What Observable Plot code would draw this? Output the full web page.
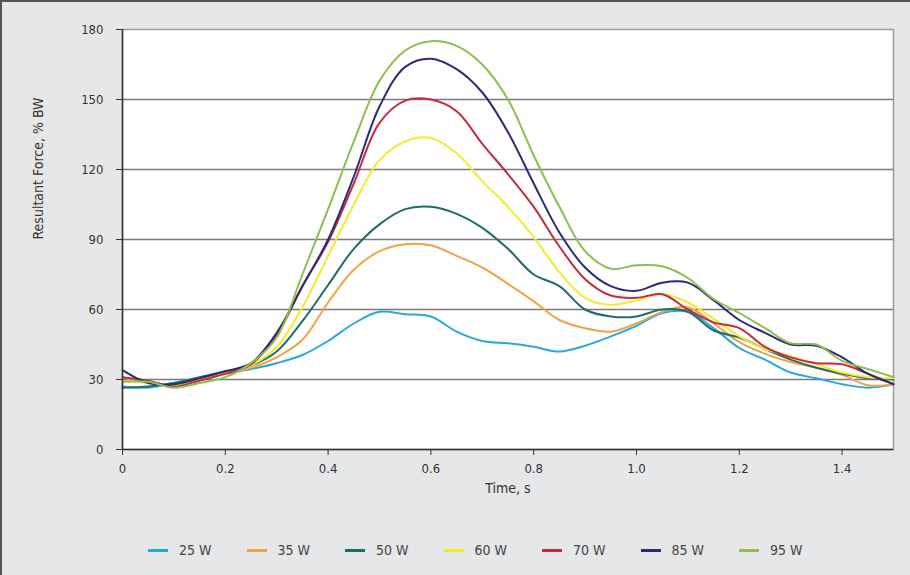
<!DOCTYPE html>
<html>
<head>
<meta charset="utf-8">
<script src="https://cdn.jsdelivr.net/npm/d3@7"></script>
<script src="https://cdn.jsdelivr.net/npm/@observablehq/plot@0.6"></script>
<style>
  html, body { margin: 0; padding: 0; }
  #wrap { position: relative; width: 910px; height: 575px; background: #e5e7e9; overflow: hidden;
          font-family: "DejaVu Sans", sans-serif; font-stretch: condensed; }
  #chart { position: absolute; left: 0; top: 0; }
  #chart svg text { font-stretch: condensed; }
  #edge { position: absolute; left: 0; top: 0; width: 910px; height: 575px; box-sizing: border-box;
          border-left: 2px solid #555; border-top: 2px solid #555; pointer-events: none; }
  #legend { position: absolute; left: 148px; top: 542px; display: flex; }
  .item { width: 98.5px; display: flex; align-items: center; font-size: 14px; color: #444; font-stretch: condensed; }
  .sw { width: 20px; height: 3px; margin-right: 11px; }
</style>
</head>
<body>
<div id="wrap">
  <div id="chart"></div>
  <div id="legend"></div>
  <div id="edge"></div>
</div>
<script>
const seriesNames = ["25 W", "35 W", "50 W", "60 W", "70 W", "85 W", "95 W"];
const seriesColors = ["#2aa8dc", "#eea446", "#1f6d69", "#f4ea2e", "#c42b3c", "#2b2b78", "#8cbf4e"];

const time = [0, 0.05, 0.1, 0.15, 0.2, 0.25, 0.3, 0.35, 0.4, 0.45, 0.5, 0.55, 0.6, 0.65, 0.7, 0.75,
              0.8, 0.85, 0.9, 0.95, 1.0, 1.05, 1.1, 1.15, 1.2, 1.25, 1.3, 1.35, 1.4, 1.45, 1.5];

const w25 = [27, 26.5, 28.5, 30.5, 32.5, 34.5, 37, 40.5, 46.5, 54, 59, 58, 57, 50.5, 46.5, 45.5,
             44, 42, 44.5, 48.5, 53, 58.5, 59, 52, 43.5, 38.5, 33, 30.5, 28, 26.5, 27.8];
const w35 = [31, 28.5, 27.5, 30, 32.5, 35, 39.5, 47, 63, 77, 85, 88, 87.5, 83, 78, 71,
             63.5, 55.5, 52, 50.5, 54, 59, 61, 54, 46, 41, 37.5, 35, 32, 27.5, 28];
const w50 = [26.5, 27, 28.5, 31, 33.5, 36, 42, 55, 70.5, 86, 96.5, 103, 104, 101, 95, 86,
             75, 70, 60, 57, 57, 60, 59, 51, 48, 43, 38.5, 35, 32.5, 30.5, 30];
const w60 = [29.5, 28.5, 27.5, 30, 33, 36, 44, 61, 83, 105, 124, 132, 133.5, 127, 115, 104,
             91, 76, 65, 62, 64, 66.5, 63, 56, 48.5, 43, 40, 36.5, 33, 31, 30.5];
const w70 = [31, 29.5, 27, 29.5, 32.5, 36.5, 49, 70, 89, 114, 140, 149.5, 150, 145, 131, 118,
             104, 87, 73, 66, 65, 66.5, 60, 54.5, 52, 44, 39.5, 37, 36.5, 32.5, 28];
const w85 = [34, 28.5, 28, 30.5, 33.5, 37, 50, 70, 90, 117, 147, 164, 167.5, 163, 153, 136,
             114, 93, 78, 70, 68, 71.5, 71.5, 64, 55.5, 50, 45, 44.5, 39.5, 32.5, 28];
const w95 = [29, 29, 26.5, 28.5, 31, 37, 48, 75, 103, 132, 158, 171, 175, 173, 165, 150,
             126, 104, 85, 77.5, 79, 78.5, 73.5, 64.5, 58.5, 52, 45.5, 45, 38, 34.5, 31];

const xTicks = [0, 0.2, 0.4, 0.6, 0.8, 1.0, 1.2, 1.4];
const xTickLabels = ["0", "0.2", "0.4", "0.6", "0.8", "1.0", "1.2", "1.4"];
const yTicks = [0, 30, 60, 90, 120, 150, 180];

const allValues = [w25, w35, w50, w60, w70, w85, w95];
const data = [];
allValues.forEach((vals, si) => {
  vals.forEach((v, i) => data.push({t: time[i], f: v, s: seriesNames[si]}));
});

const chart = Plot.plot({
  width: 910,
  height: 520,
  marginLeft: 122,
  marginRight: 17,
  marginTop: 29,
  marginBottom: 71,
  style: {background: "transparent", fontFamily: '"DejaVu Sans", sans-serif', fontSize: "13px", color: "#333"},
  x: {domain: [0, 1.5]},
  y: {domain: [0, 180]},
  color: {domain: seriesNames, range: seriesColors},
  marks: [
    Plot.frame({fill: "white", stroke: "#9a9a9a", strokeWidth: 1.5}),
    Plot.gridY(yTicks.filter(d => d > 0 && d < 180), {stroke: "#7a7a7a", strokeOpacity: 1, strokeWidth: 1.5}),
    Plot.line(data, {x: "t", y: "f", z: "s", stroke: "s", strokeWidth: 2, curve: "catmull-rom"}),
    Plot.ruleX([0], {stroke: "#333", strokeWidth: 1.5}),
    Plot.ruleY([0], {stroke: "#333", strokeWidth: 1.5}),
    Plot.axisX(xTicks, {tickSize: 6, tickPadding: 8, stroke: "#333", tickFormat: (d, i) => xTickLabels[i],
                        label: null, fill: "#333", fontSize: 13}),
    Plot.axisY(yTicks, {tickSize: 6, tickPadding: 13, stroke: "#333", label: null, fill: "#333", fontSize: 13}),
    Plot.text(["Time, s"], {frameAnchor: "bottom", dy: 43, fontSize: 14, fill: "#333"}),
    Plot.text(["Resultant Force, % BW"], {frameAnchor: "left", dx: -84, rotate: -90, fontSize: 14, fill: "#333"})
  ]
});
document.getElementById("chart").appendChild(chart);

const legend = document.getElementById("legend");
seriesNames.forEach((n, i) => {
  const it = document.createElement("div");
  it.className = "item";
  const sw = document.createElement("div");
  sw.className = "sw";
  sw.style.background = seriesColors[i];
  const tx = document.createElement("span");
  tx.textContent = n;
  it.appendChild(sw);
  it.appendChild(tx);
  legend.appendChild(it);
});
</script>
</body>
</html>
